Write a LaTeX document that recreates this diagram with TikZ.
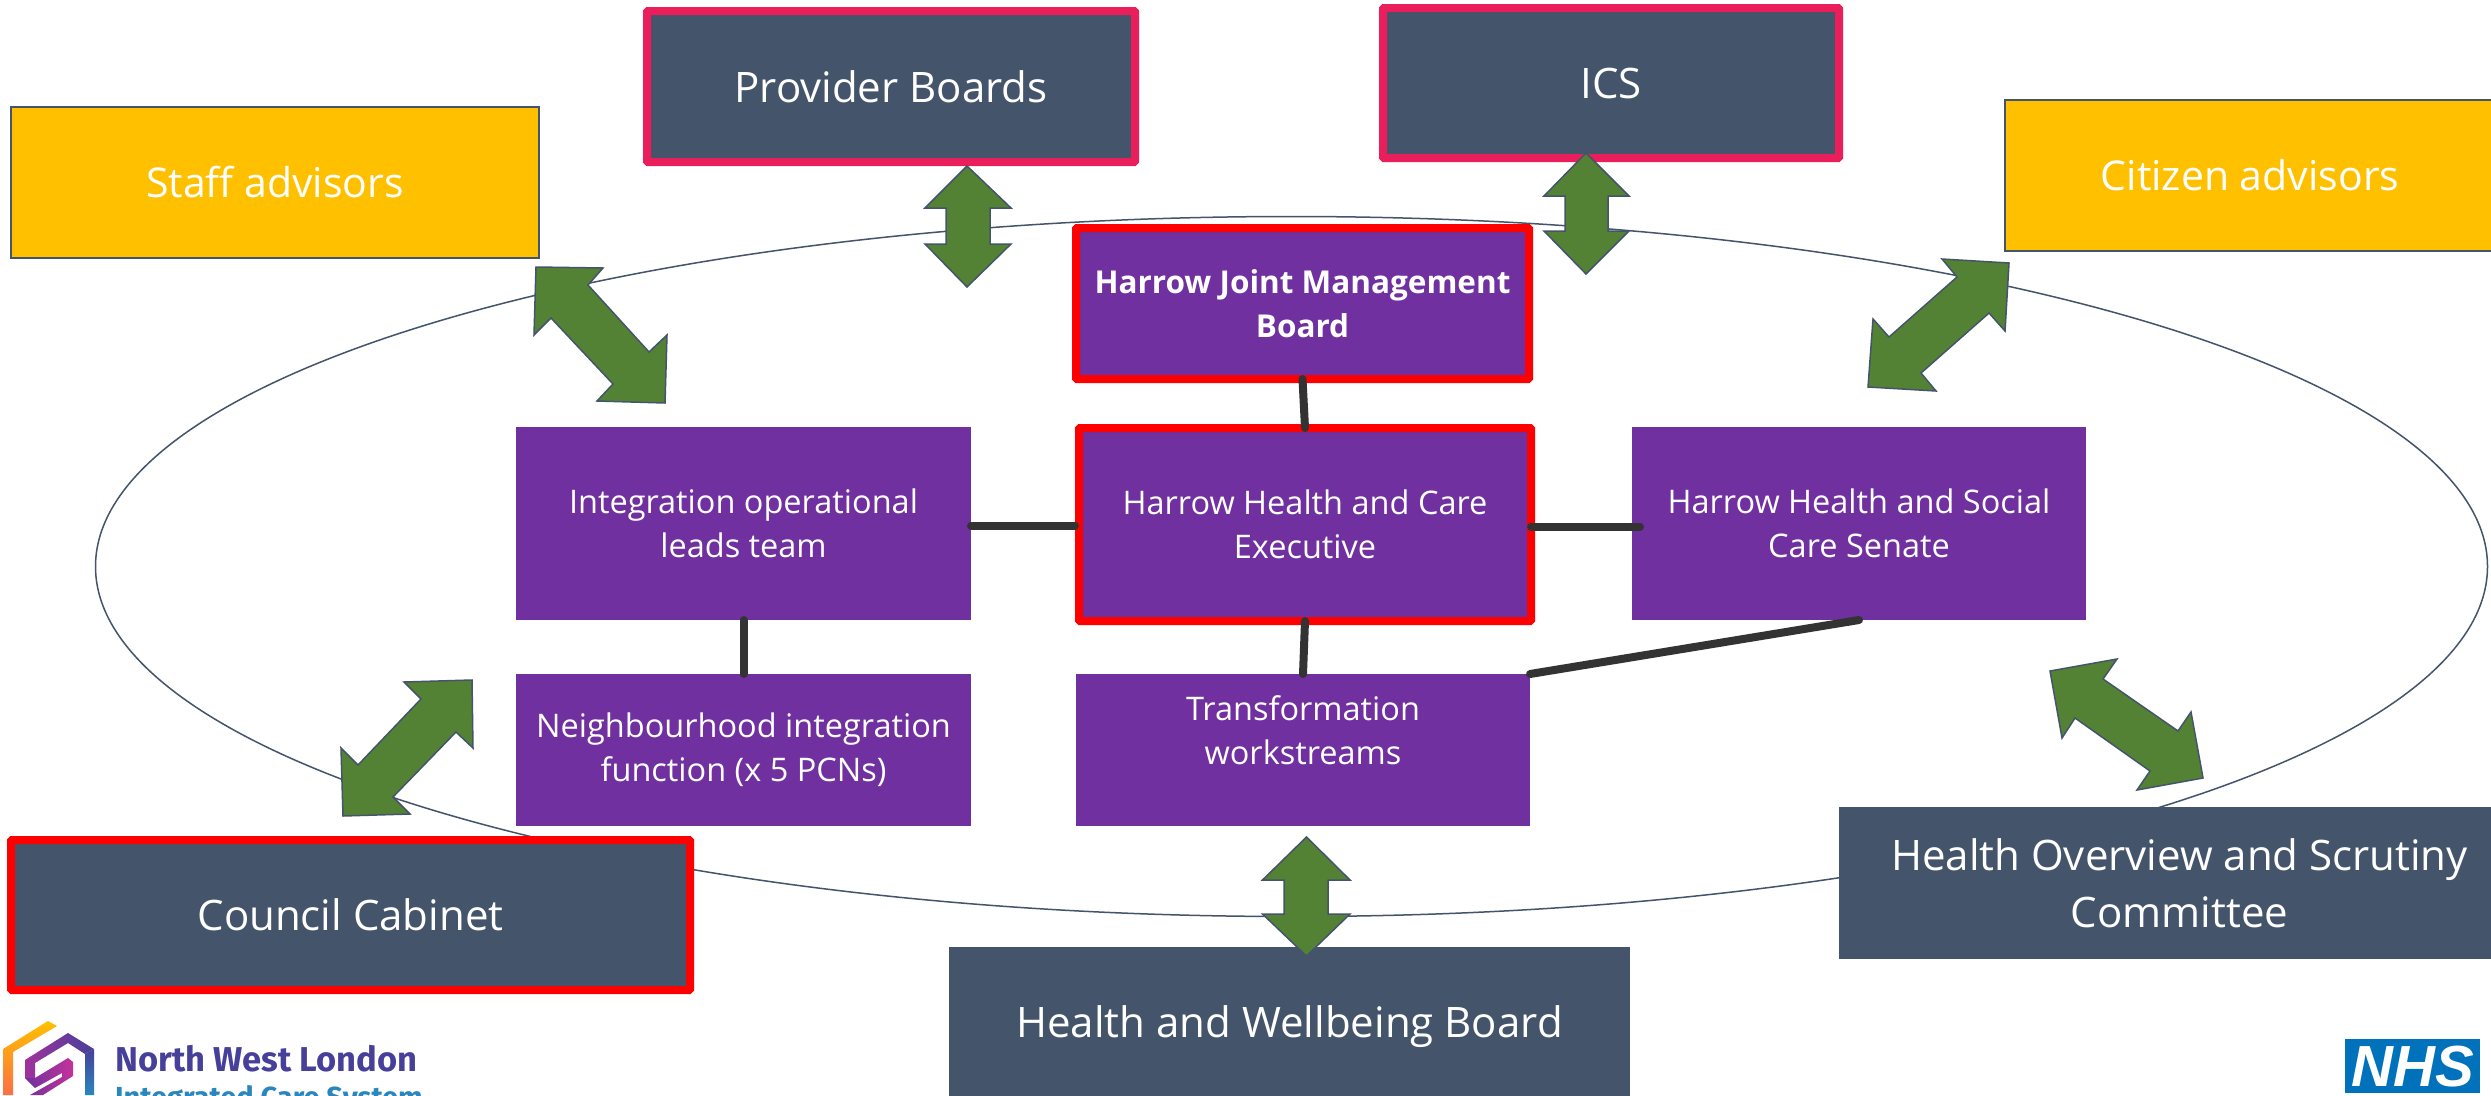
\documentclass[tikz,border=0pt]{standalone}
\usepackage{fontspec}
\setmainfont{Open Sans}
\newfontfamily\nhsfont{Liberation Sans}
\newfontfamily\logofont{Fira Sans}
\usetikzlibrary{calc}
\definecolor{slateb}{HTML}{44546A}
\definecolor{purp}{HTML}{7030A0}
\definecolor{amber}{HTML}{FFC000}
\definecolor{pinkr}{HTML}{E91E5A}
\definecolor{arrowg}{HTML}{548235}
\definecolor{conn}{HTML}{333333}
\definecolor{nhsblue}{HTML}{0072BC}
\definecolor{logopurple}{HTML}{46409A}
\definecolor{logoblue}{HTML}{2A86BE}
\definecolor{logomag}{HTML}{C2339A}
\definecolor{logoorange}{HTML}{FB6F45}
\tikzset{
  x=1pt,y=-1pt,
  boxbase/.style={rectangle,inner sep=0pt,outer sep=0pt,text=white,align=center,anchor=north west},
  purplebox/.style={boxbase,fill=purp,font=\fontsize{32.5}{44}\selectfont},
  slatebox/.style={boxbase,fill=slateb,font=\fontsize{42}{57}\selectfont},
  amberbox/.style={boxbase,fill=amber,draw=slateb,line width=1.5pt,font=\fontsize{41}{56}\selectfont},
  redline/.style={draw=red,line width=8pt,rounded corners=1pt},
  pinkline/.style={draw=pinkr,line width=8pt,rounded corners=1pt},
  linkline/.style={draw=conn,line width=8pt,line cap=round},
  biarrow/.style={fill=arrowg,draw=slateb,line width=1.5pt,line join=miter},
  orbit/.style={draw=slateb,line width=1.5pt},
}
\begin{document}
\begin{tikzpicture}
\useasboundingbox (0,0) rectangle (2491,1095);
\fill[white] (0,0) rectangle (2491,1095);

% ring
\draw[orbit] (1291.5,566.5) ellipse [x radius=1196,y radius=350];

% boxes
\node[amberbox,minimum width=528pt,minimum height=151pt] (staff) at (11,107) {Staff advisors};
\node[amberbox,minimum width=490pt,minimum height=151pt] (citizen) at (2005,100) {Citizen advisors};
\node[slatebox,pinkline,minimum width=488pt,minimum height=151pt] (provider) at (647,11) {Provider Boards};
\node[slatebox,pinkline,minimum width=456pt,minimum height=150pt] (ics) at (1383,8) {ICS};
\node[purplebox,redline,minimum width=453pt,minimum height=151pt,font=\fontsize{31.5}{44}\selectfont\bfseries] (jmb) at (1076,228) {Harrow Joint Management\\Board};
\node[purplebox,redline,minimum width=452pt,minimum height=193pt] (exec) at (1079,428) {Harrow Health and Care\\Executive};
\node[purplebox,minimum width=455pt,minimum height=193pt] (ops) at (516,427) {Integration operational\\leads team};
\node[purplebox,minimum width=454pt,minimum height=193pt] (senate) at (1632,427) {Harrow Health and Social\\Care Senate};
\node[purplebox,minimum width=455pt,minimum height=152pt] (neigh) at (516,674) {Neighbourhood integration\\function (x 5 PCNs)};
\node[purplebox,minimum width=454pt,minimum height=152pt] (trans) at (1076,674) {};
\node[font=\fontsize{32.5}{44}\selectfont,text=white,align=center,inner sep=0pt] (transtext) at (1303,730) {Transformation\\workstreams};
\node[slatebox,redline,minimum width=679pt,minimum height=150pt] (cabinet) at (11,840) {Council Cabinet};
\node[slatebox,minimum width=681pt,minimum height=160pt] (hwb) at (949,947) {Health and Wellbeing Board};
\node[slatebox,minimum width=681pt,minimum height=152pt] (hosc) at (1839,807) {Health Overview and Scrutiny\\Committee};

% links
\draw[linkline] (jmb.south) -- (exec.north);
\draw[linkline] ($(ops.east)+(0,2)$) -- ($(exec.west)+(-4,1)$);
\draw[linkline] ($(exec.east)+(0,2)$) -- ($(senate.west)+(8,3)$);
\draw[linkline] (ops.south) -- (neigh.north);
\draw[linkline] (exec.south) -- (trans.north);
\draw[linkline] (trans.north east) -- (senate.south);

% double arrows
\draw[biarrow] (967,166) -- (1011,208) -- (990,208) -- (990,244) -- (1011,244) -- (967,287) -- (925,244) -- (946,244) -- (946,208) -- (925,208) -- cycle;
\draw[biarrow] (1586,153) -- (1629,196) -- (1608,196) -- (1608,231) -- (1629,231) -- (1586,274) -- (1544,231) -- (1565,231) -- (1565,196) -- (1544,196) -- cycle;
\draw[biarrow] (1306.5,837) -- (1350,880) -- (1328,880) -- (1328,914) -- (1350,914) -- (1306.5,956) -- (1262.5,914) -- (1284,914) -- (1284,880) -- (1262.5,880) -- cycle;
\draw[biarrow] (536,267) -- (603,268) -- (588,285) -- (649,352) -- (667,335) -- (665,403) -- (597,401) -- (613,384) -- (551,318) -- (534,335) -- cycle;
\draw[biarrow] (1942,259) -- (2009,263) -- (2005,331) -- (1989,313) -- (1921,373) -- (1936,391) -- (1868,387) -- (1873,319) -- (1889,337) -- (1957,277) -- cycle;
\draw[biarrow] (404,682) -- (472,680) -- (473,748) -- (456,732) -- (393,797) -- (410,814) -- (343,816) -- (341,748) -- (358,765) -- (421,699) -- cycle;
\draw[biarrow] (2117,659) -- (2050,671) -- (2062,738) -- (2075,718) -- (2150,771) -- (2137,790) -- (2203,778) -- (2191,712) -- (2178,731) -- (2103,679) -- cycle;

% logo
\begin{scope}
\clip (0,1000) rectangle (500,1095);
\shade[top color=amber,bottom color=logoorange] (3,1095) -- (3,1049) -- (48,1021) -- (57,1026) -- (13,1052) -- (13,1095) -- cycle;
\shade[left color=logomag!60!purp,right color=logopurple] (25,1078) -- (25,1060) -- (68,1033) -- (94,1049) -- (85,1054) -- (68,1043) -- (35,1063) -- (35,1078) -- cycle;
\shade[top color=logopurple,bottom color=logoblue] (94,1049) -- (94,1095) -- (85,1095) -- (85,1054) -- cycle;
\shade[left color=purp,right color=logomag] (25,1078) -- (35,1078) -- (68,1058) -- (73,1062) -- (73,1076) -- (43,1095) -- (30,1095) -- (62,1077) -- (62,1073) -- (35,1088) -- cycle;
\node[font=\logofont\fontsize{34.5}{34}\selectfont\bfseries,text=logopurple,anchor=west,inner sep=0pt] (nwl) at (115,1059) {North West London};
\node[font=\logofont\fontsize{29}{29}\selectfont\bfseries,text=logoblue,anchor=west,inner sep=0pt] (icsname) at (115,1100) {Integrated Care System};
\end{scope}
\node[rectangle,fill=nhsblue,inner sep=0pt,minimum width=135pt,minimum height=54pt,anchor=north west,text=white,font=\nhsfont\fontsize{58}{58}\selectfont\bfseries\itshape] (nhs) at (2345,1039) {NHS};
\end{tikzpicture}
\end{document}
